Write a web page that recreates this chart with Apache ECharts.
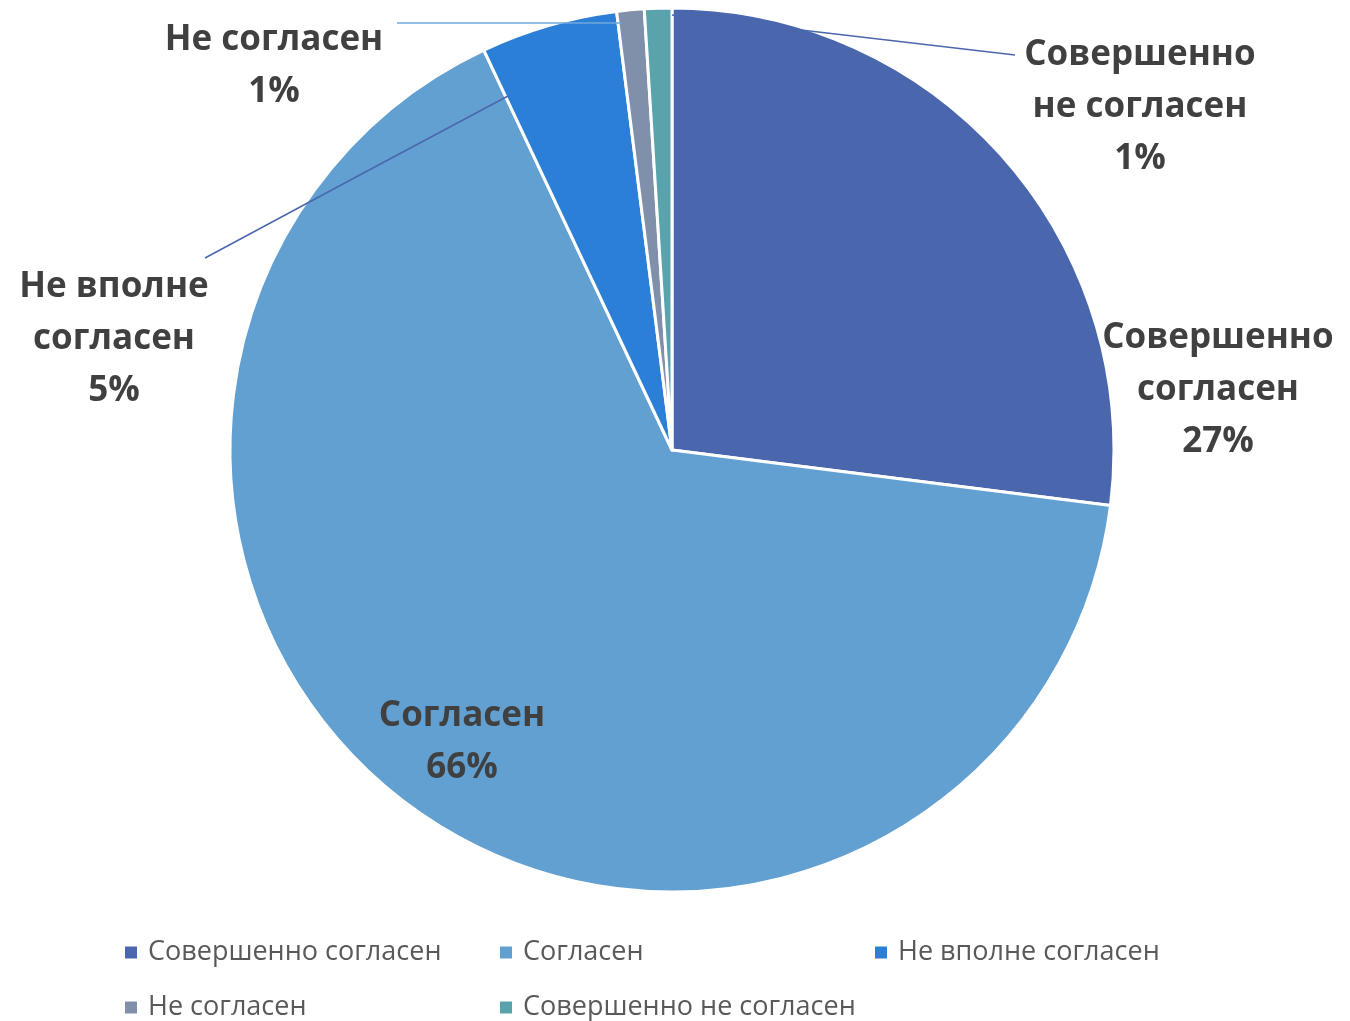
<!DOCTYPE html>
<html><head><meta charset="utf-8">
<script src="https://cdn.jsdelivr.net/npm/echarts@6/dist/echarts.min.js"></script>
<style>html,body{margin:0;padding:0;background:#fff}#c{width:1350px;height:1021px}</style>
</head><body><div id="c"></div>
<script>
const categories = ['Совершенно согласен','Согласен','Не вполне согласен','Не согласен','Совершенно не согласен'];
const labelNames = ['Совершенно\nсогласен','Согласен','Не вполне\nсогласен','Не согласен','Совершенно\nне согласен'];
const values = [27, 66, 5, 1, 1];
const colors = ['#4a67ae','#62a0d2','#2b7fd6','#8190aa','#5aa3ad'];
const lineColors = [null, null, '#4a67ae', '#6fa8dc', '#4a67ae'];
// label anchor positions (centres) in px
const labelPos = [[1218,390],[462,742],[114,339],[274,66],[1140,107]];
// leader line end points in px
const linePts = [null, null, [[508,96],[356,177],[205,258]], [[622,23],[510,23],[397,23]], [[672,15],[844,35],[1015,55]]];
const legendPos = [[125,939],[500,939],[875,939],[125,994],[500,994]];

const chart = echarts.init(document.getElementById('c'));
const pieData = categories.map((n,i)=>({
  name:n, value:values[i],
  itemStyle:{color:colors[i]}
}));
const labelData = categories.map((n,i)=>({
  name:n, value:values[i],
  itemStyle:{color:'rgba(0,0,0,0)', borderWidth:0},
  labelLine:{show: !!lineColors[i], lineStyle:{color: lineColors[i] || '#000', width:1.5}}
}));
const legends = categories.map((n,i)=>({
  data:[{name:n, itemStyle:{color:colors[i], borderWidth:0}}],
  left:legendPos[i][0], top:legendPos[i][1], padding:0,
  orient:'horizontal', itemWidth:12, itemHeight:12, icon:'rect',
  itemStyle:{borderWidth:0},
  textStyle:{fontFamily:'Open Sans', fontSize:27, color:'#595959', padding:[0,0,0,6]},
  selectedMode:false
}));
const common = {type:'pie', center:[672,450], radius:442, startAngle:90, clockwise:true, silent:true};
chart.setOption({
  animation:false,
  legend: legends,
  series:[
    Object.assign({}, common, {
      z:2,
      data:pieData,
      itemStyle:{borderColor:'#fff', borderWidth:3},
      label:{show:false},
      labelLine:{show:false}
    }),
    Object.assign({}, common, {
      z:5,
      data:labelData,
      label:{
        show:true, position:'outside', overflow:'none',
        formatter:(p)=>labelNames[p.dataIndex]+'\n'+p.value+'%',
        fontFamily:'Open Sans', fontWeight:'bold', fontSize:35, lineHeight:52,
        color:'#404040', align:'center'
      },
      labelLine:{show:true, length:10, length2:10},
      labelLayout:(p)=>{
        const i = p.dataIndex;
        const o = {x:labelPos[i][0], y:labelPos[i][1], align:'center', verticalAlign:'middle'};
        if (linePts[i]) o.labelLinePoints = linePts[i];
        return o;
      }
    })
  ]
});
</script></body></html>
